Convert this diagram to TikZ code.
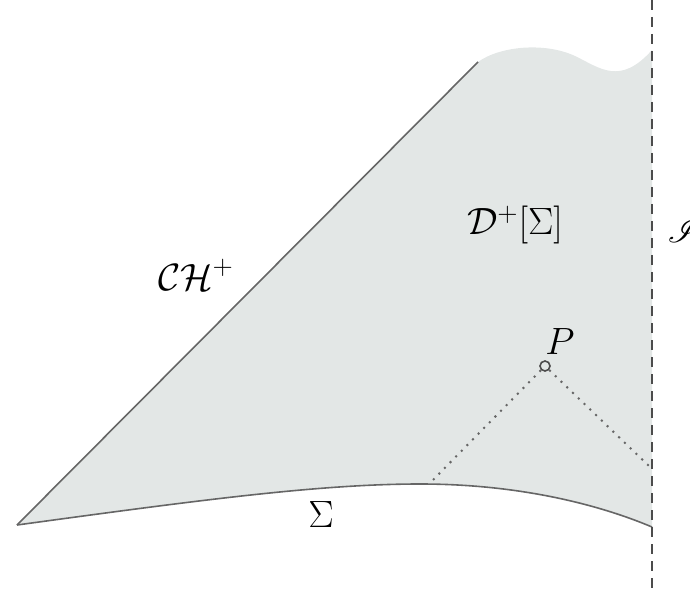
\RequirePackage{fix-cm}
\documentclass[tikz,border=0pt]{standalone}
\usepackage{amsmath}
\usepackage{mathrsfs}
\usepackage{tikz}
\definecolor{domfill}{RGB}{227,231,230}

\begin{document}
\begin{tikzpicture}[
  x=0.5pt, y=-0.5pt,
  edge/.style={draw=black!60, line width=0.8pt},
  scriline/.style={draw=black!70, line width=1pt, dash pattern=on 5pt off 3.5pt},
  ray/.style={draw=black!60, line width=1pt, dash pattern=on 1pt off 3pt},
  lbl/.style={font=\fontsize{19}{23}\selectfont, inner sep=0pt}
]
\useasboundingbox (0,0) rectangle (690,593);
\coordinate (corner) at (17,525);
\coordinate (chtop) at (478,62);
\coordinate (scritop) at (652,50);
\coordinate (sigend) at (652,527);
\coordinate (scriN) at (652,0);
\coordinate (scriS) at (652,593);
\coordinate (rayL) at (430,483);
\coordinate (rayR) at (650,467);
% the domain of dependence
\fill[domfill] (corner) -- (chtop)
  .. controls (500,46) and (545,42) .. (575,56)
  .. controls (600,68) and (620,86) .. (scritop)
  -- (sigend)
  .. controls (600,505) and (520,484) .. (420,484)
  .. controls (320,484) and (200,500) .. (corner) -- cycle;
\draw[edge] (corner) -- (chtop);
\draw[edge] (corner) .. controls (200,500) and (320,484) .. (420,484)
  .. controls (520,484) and (600,505) .. (sigend);
\draw[scriline] (scriN) -- (scriS);
% point P and its past light cone
\node[circle, draw=black!70, line width=0.8pt, inner sep=0pt, minimum size=5pt] (P) at (545,366) {};
\draw[ray] (P) -- (rayL);
\draw[ray] (P) -- (rayR);
\node[lbl] (plabel) at (560,342) {$P$};
\node[lbl] (ch) at (196,275) {$\mathcal{CH}^+$};
\node[lbl] (dom) at (515,225) {$\mathcal{D}^+[\Sigma]$};
\node[lbl] (sigma) at (321,515) {$\Sigma$};
\node[lbl, anchor=west] (scri) at (667,230) {$\mathscr{I}$};
\end{tikzpicture}
\end{document}
